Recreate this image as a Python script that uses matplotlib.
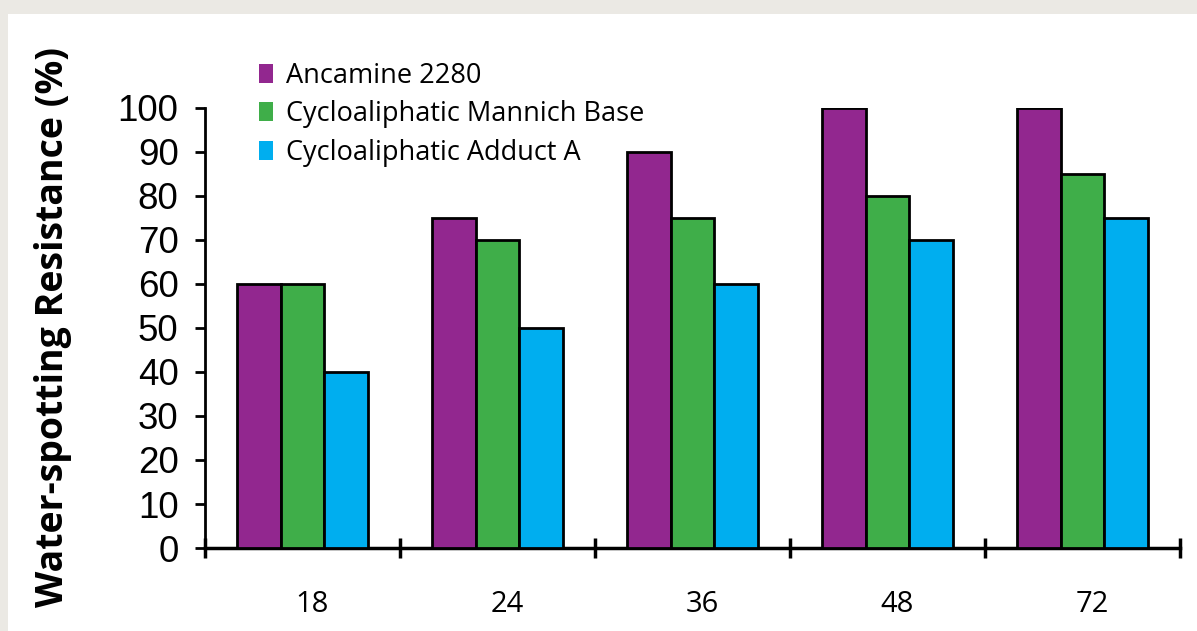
import matplotlib
matplotlib.use('Agg')
import matplotlib.pyplot as plt
import matplotlib.transforms as mtransforms
from matplotlib.patches import Patch, Rectangle
import numpy as np

# data
hours = ['18', '24', '36', '48', '72']
series = ['Ancamine 2280', 'Cycloaliphatic Mannich Base', 'Cycloaliphatic Adduct A']
ancamine = [60, 75, 90, 100, 100]
mannich = [60, 70, 75, 80, 85]
adduct = [40, 50, 60, 70, 75]
colors = ['#92278f', '#3fae49', '#00aeef']

W, H = 1197, 631
fig = plt.figure(figsize=(W / 100, H / 100), dpi=100)
fig.patch.set_facecolor('#ebe9e4')
fig.patches.append(Rectangle((8 / W, 0), 1, 1 - 14 / H, transform=fig.transFigure,
                             facecolor='white', edgecolor='none', zorder=-5))

ax = fig.add_axes([205 / W, 1 - 548 / H, (1180 - 205) / W, (548 - 108) / H])
ax.set_facecolor('none')

x = np.arange(len(hours))
bw = 0.225
for i, vals in enumerate([ancamine, mannich, adduct]):
    ax.bar(x + (i - 1) * bw, vals, bw, color=colors[i], edgecolor='black',
           linewidth=2, label=series[i], zorder=3)

ax.set_xlim(-0.5, len(hours) - 0.5)
ax.set_ylim(0, 100)
ax.set_yticks(range(0, 101, 10))
ax.tick_params(axis='y', direction='out', length=7, width=2, pad=12,
               labelsize=26.5)
for t in ax.get_yticklabels():
    t.set_fontfamily('Liberation Sans')

# category boundaries get the crossing ticks, labels sit at the centres
ax.set_xticks(np.arange(-0.5, len(hours)), minor=False)
ax.set_xticklabels([''] * (len(hours) + 1))
ax.tick_params(axis='x', which='major', direction='inout', length=15, width=2.5)
ax.set_xticks(x, minor=True)
ax.set_xticklabels(hours, minor=True, fontsize=21, fontfamily='Open Sans')
ax.tick_params(axis='x', which='minor', length=0, pad=30)
shift = mtransforms.ScaledTranslation(10 / 100, 0, fig.dpi_scale_trans)
for t in ax.get_xticklabels(minor=True):
    t.set_transform(t.get_transform() + shift)

for s in ['top', 'right']:
    ax.spines[s].set_visible(False)
ax.spines['left'].set_linewidth(2)
ax.spines['bottom'].set_linewidth(2.5)

ax.set_ylabel('Water-spotting Resistance (%)', fontsize=27, fontweight='bold',
              fontfamily='Open Sans')
ax.yaxis.set_label_coords(72 / W, 1 - 327 / H, transform=fig.transFigure)

handles = [Patch(facecolor=c, edgecolor='none') for c in colors]
fig.legend(handles, series, loc='upper left', bbox_to_anchor=(245 / W, 1 - 48 / H),
           frameon=False, handlelength=0.55, handleheight=0.7,
           handletextpad=0.47, labelspacing=0.4, borderpad=0,
           prop={'family': 'Open Sans', 'size': 19.5})

fig.savefig('out.png', dpi=100, facecolor=fig.get_facecolor())
